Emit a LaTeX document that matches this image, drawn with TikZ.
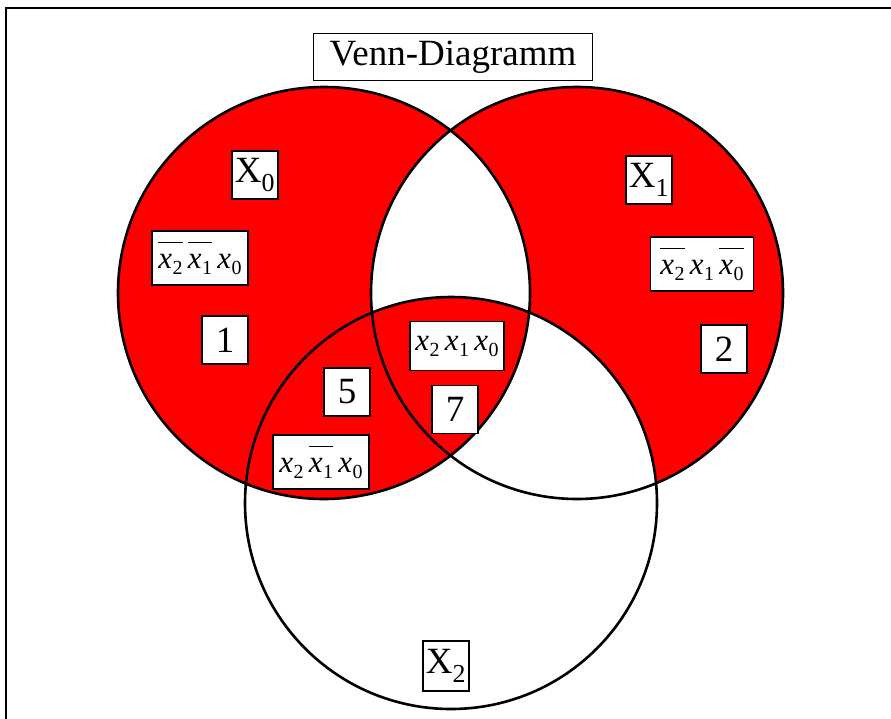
\documentclass[tikz,border=0pt]{standalone}
\usepackage{fontspec}
\setmainfont{Liberation Serif}
\usepackage{xcolor}
\usepackage{tikz}
\usetikzlibrary{positioning}
\definecolor{VennRed}{RGB}{255,0,0}
\newcommand{\vennr}{206}
\newcommand{\xsub}[1]{\textit{x}\kern0.5pt\raisebox{-6pt}{\fontsize{20}{20}\selectfont #1}}
\newcommand{\xneg}[1]{$\overline{\mbox{\rule{0pt}{25pt}\xsub{#1}}}$}
\tikzset{
  setc/.style={draw=black,line width=2.6pt},
  tagbox/.style={draw=black,line width=1.3pt,fill=white,inner sep=0pt,
                 minimum width=46pt,minimum height=48pt,font=\fontsize{37}{40}\selectfont},
  termbox/.style={draw=black,line width=1.3pt,fill=white,inner sep=0pt,
                  minimum width=96pt,minimum height=54pt,font=\fontsize{31}{34}\selectfont},
  titlebox/.style={tagbox,minimum width=279pt,minimum height=47pt},
}

\begin{document}
\begin{tikzpicture}[x=1pt,y=-1pt]
  \useasboundingbox (0,0) rectangle (891,718);
  \coordinate (c0) at (324,293);
  \coordinate (c1) at (577,293);
  \coordinate (c2) at (451,503);
  \draw[line width=2pt] (6,720) -- (6,8) -- (893,8);
  \fill[VennRed] (c0) circle[radius=\vennr] (c1) circle[radius=\vennr];
  \begin{scope}
    \clip (c0) circle[radius=\vennr];
    \clip (c1) circle[radius=\vennr];
    \fill[white,even odd rule] (c2) circle[radius=\vennr] (0,0) rectangle (891,718);
  \end{scope}
  \begin{scope}
    \clip (c1) circle[radius=\vennr];
    \clip (c2) circle[radius=\vennr];
    \fill[white,even odd rule] (c0) circle[radius=\vennr] (0,0) rectangle (891,718);
  \end{scope}
  \draw[setc] (c0) circle[radius=\vennr] (c1) circle[radius=\vennr] (c2) circle[radius=\vennr];

  \node[titlebox] (title) at (453,57) {Venn-Diagramm};
  \node[tagbox] (X0) at (255,175) {X\textsubscript{0}};
  \node[tagbox] (X1) at (649,180) {X\textsubscript{1}};
  \node[tagbox,minimum height=50pt] (X2) at (446,666) {X\textsubscript{2}};
  \node[termbox] (t1) at (200,258) {\xneg{2}\,\xneg{1}\,\xsub{0}};
  \node[termbox,minimum width=103pt] (t2) at (702,264) {\xneg{2}\,\xsub{1}\,\xneg{0}};
  \node[termbox,minimum width=94pt,minimum height=49pt] (t7) at (457,346) {\xsub{2}\,\xsub{1}\,\xsub{0}};
  \node[termbox] (t5) at (321,462) {\xsub{2}\,\xneg{1}\,\xsub{0}};
  \node[tagbox] (m1) at (225,340) {1};
  \node[tagbox] (m2) at (724,349) {2};
  \node[tagbox] (m5) at (347,392) {5};
  \node[tagbox,below=14pt of t7,xshift=-2pt] (m7) {7};
\end{tikzpicture}
\end{document}
